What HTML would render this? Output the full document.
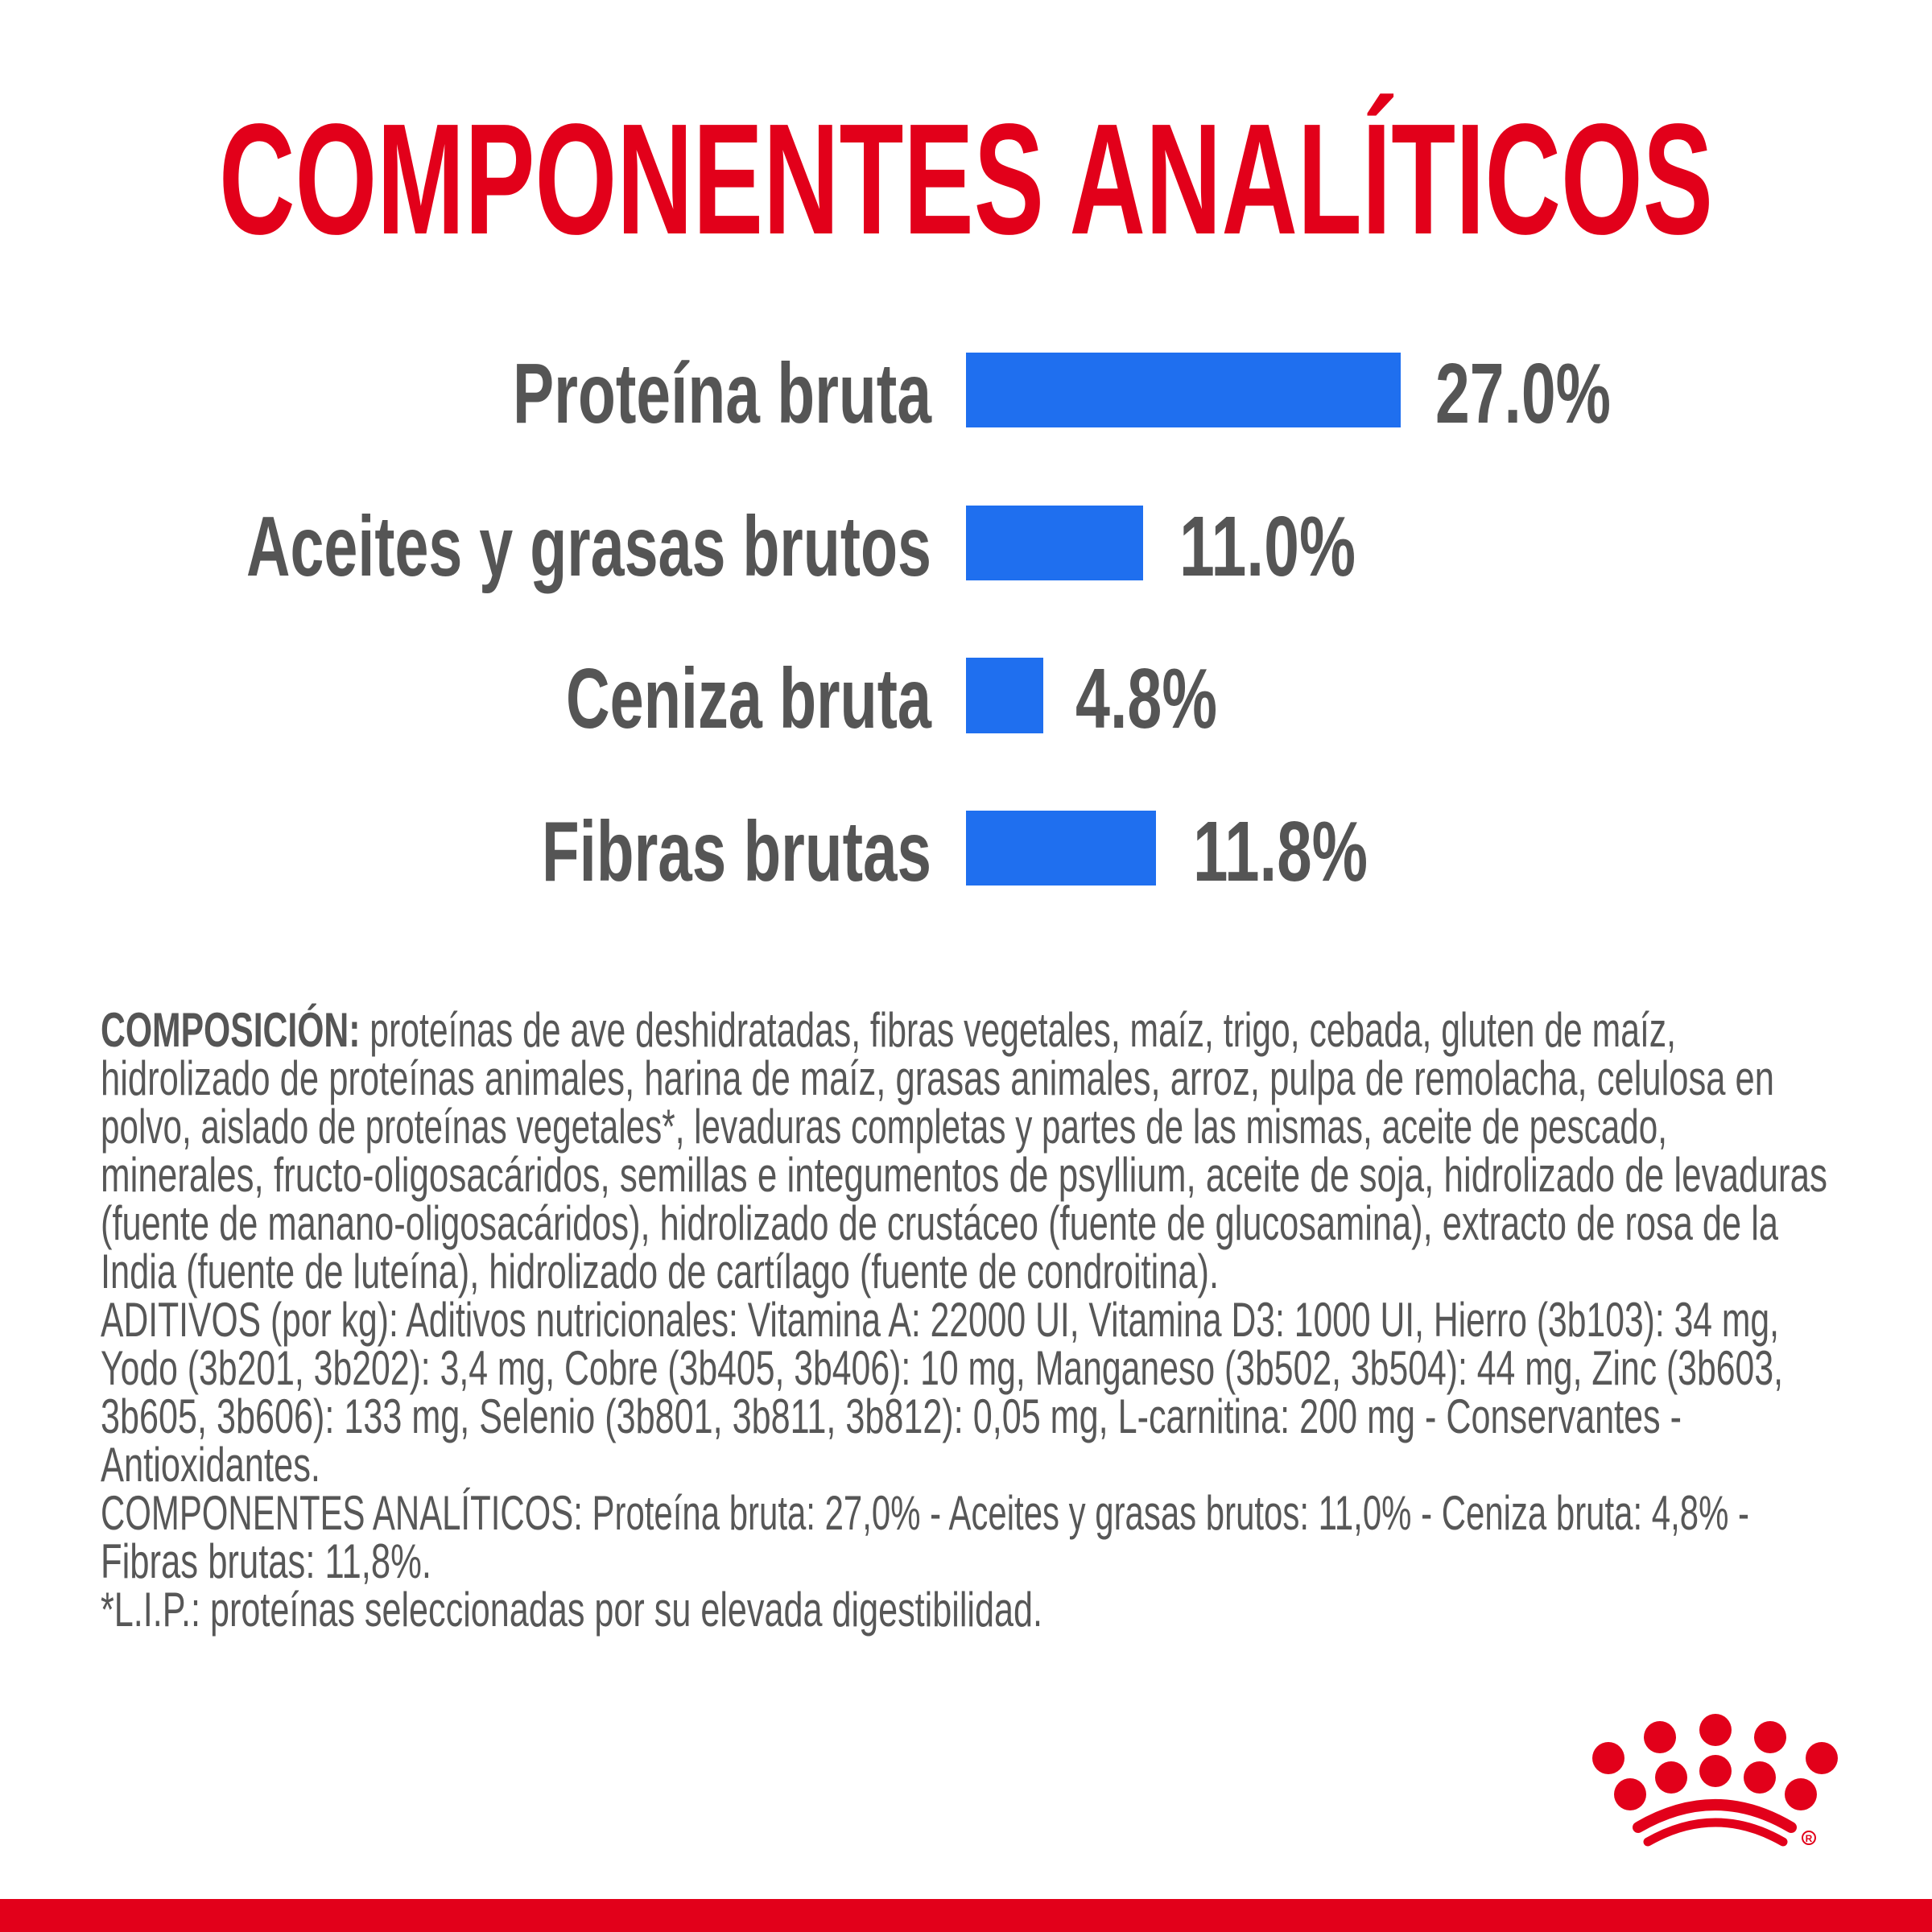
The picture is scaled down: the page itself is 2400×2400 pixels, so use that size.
<!DOCTYPE html>
<html><head><meta charset="utf-8"><style>
html,body{margin:0;padding:0;background:#fff;}
body{width:2400px;height:2400px;position:relative;overflow:hidden;font-family:"Liberation Sans",sans-serif;}
.t{position:absolute;white-space:nowrap;line-height:1;}
.fit{display:inline-block;transform-origin:0 0;}
#title{color:#e2001a;font-weight:bold;font-size:196px;}
.lab{color:#555;font-weight:bold;font-size:106px;}
.bar{position:absolute;background:#1f6fef;}
.p{color:#575757;font-size:60px;}
.p b{color:#555;}
</style></head><body>
<div class="t" style="left:272px;top:125px"><span class="fit" id="title" data-w="1856">COMPONENTES ANALÍTICOS</span></div>

<div class="t" style="left:637px;top:436px"><span class="fit lab" data-w="520">Proteína bruta</span></div>
<div class="t" style="left:306px;top:626px"><span class="fit lab" data-w="851">Aceites y grasas brutos</span></div>
<div class="t" style="left:703px;top:815px"><span class="fit lab" data-w="454">Ceniza bruta</span></div>
<div class="t" style="left:673px;top:1005px"><span class="fit lab" data-w="484">Fibras brutas</span></div>

<div class="bar" style="left:1200px;top:438px;width:540px;height:93px"></div>
<div class="bar" style="left:1200px;top:628px;width:220px;height:93px"></div>
<div class="bar" style="left:1200px;top:817px;width:96px;height:94px"></div>
<div class="bar" style="left:1200px;top:1007px;width:236px;height:93px"></div>

<div class="t" style="left:1783px;top:436px"><span class="fit lab" data-w="218">27.0%</span></div>
<div class="t" style="left:1465px;top:626px"><span class="fit lab" data-w="219">11.0%</span></div>
<div class="t" style="left:1336px;top:815px"><span class="fit lab" data-w="176">4.8%</span></div>
<div class="t" style="left:1482px;top:1005px"><span class="fit lab" data-w="217">11.8%</span></div>

<div class="t" style="left:125px;top:1250px"><span class="fit p" data-w="1957"><b>COMPOSICIÓN:</b> proteínas de ave deshidratadas, fibras vegetales, maíz, trigo, cebada, gluten de maíz,</span></div>
<div class="t" style="left:125px;top:1310px"><span class="fit p" data-w="2079">hidrolizado de proteínas animales, harina de maíz, grasas animales, arroz, pulpa de remolacha, celulosa en</span></div>
<div class="t" style="left:125px;top:1370px"><span class="fit p" data-w="1946">polvo, aislado de proteínas vegetales*, levaduras completas y partes de las mismas, aceite de pescado,</span></div>
<div class="t" style="left:125px;top:1430px"><span class="fit p" data-w="2145">minerales, fructo-oligosacáridos, semillas e integumentos de psyllium, aceite de soja, hidrolizado de levaduras</span></div>
<div class="t" style="left:125px;top:1490px"><span class="fit p" data-w="2084">(fuente de manano-oligosacáridos), hidrolizado de crustáceo (fuente de glucosamina), extracto de rosa de la</span></div>
<div class="t" style="left:125px;top:1550px"><span class="fit p" data-w="1389">India (fuente de luteína), hidrolizado de cartílago (fuente de condroitina).</span></div>
<div class="t" style="left:125px;top:1610px"><span class="fit p" data-w="2085">ADITIVOS (por kg): Aditivos nutricionales: Vitamina A: 22000 UI, Vitamina D3: 1000 UI, Hierro (3b103): 34 mg,</span></div>
<div class="t" style="left:125px;top:1670px"><span class="fit p" data-w="2090">Yodo (3b201, 3b202): 3,4 mg, Cobre (3b405, 3b406): 10 mg, Manganeso (3b502, 3b504): 44 mg, Zinc (3b603,</span></div>
<div class="t" style="left:125px;top:1730px"><span class="fit p" data-w="1964">3b605, 3b606): 133 mg, Selenio (3b801, 3b811, 3b812): 0,05 mg, L-carnitina: 200 mg - Conservantes -</span></div>
<div class="t" style="left:125px;top:1790px"><span class="fit p" data-w="273">Antioxidantes.</span></div>
<div class="t" style="left:125px;top:1850px"><span class="fit p" data-w="2048">COMPONENTES ANALÍTICOS: Proteína bruta: 27,0% - Aceites y grasas brutos: 11,0% - Ceniza bruta: 4,8% -</span></div>
<div class="t" style="left:125px;top:1910px"><span class="fit p" data-w="411">Fibras brutas: 11,8%.</span></div>
<div class="t" style="left:125px;top:1970px"><span class="fit p" data-w="1170">*L.I.P.: proteínas seleccionadas por su elevada digestibilidad.</span></div>

<svg style="position:absolute;left:0;top:0" width="2400" height="2400">
<g fill="#e2001a">
<circle cx="1998" cy="2184" r="20"/><circle cx="2062" cy="2158" r="20"/><circle cx="2131" cy="2149" r="20"/><circle cx="2199" cy="2158" r="20"/><circle cx="2263" cy="2184" r="20"/>
<circle cx="2025" cy="2229" r="20"/><circle cx="2076" cy="2208" r="20"/><circle cx="2131" cy="2200" r="20"/><circle cx="2186" cy="2208" r="20"/><circle cx="2237" cy="2229" r="20"/>
</g>
<g fill="none" stroke="#e2001a" stroke-linecap="round">
<path d="M2035 2270 Q2131 2214 2225 2270" stroke-width="14"/>
<path d="M2047 2288 Q2131 2240 2215 2288" stroke-width="11"/>
</g>
<circle cx="2247" cy="2283" r="8" fill="none" stroke="#e2001a" stroke-width="2"/>
<text x="2247" y="2288" font-size="12" font-weight="bold" fill="#e2001a" text-anchor="middle" font-family="Liberation Sans">R</text>
<rect x="0" y="2359" width="2400" height="41" fill="#e2001a"/>
</svg>
<script>
document.querySelectorAll('.fit').forEach(function(e){
  var w=e.getBoundingClientRect().width, t=+e.dataset.w;
  if(w>0) e.style.transform='scaleX('+(t/w)+')';
});
</script>
</body></html>
